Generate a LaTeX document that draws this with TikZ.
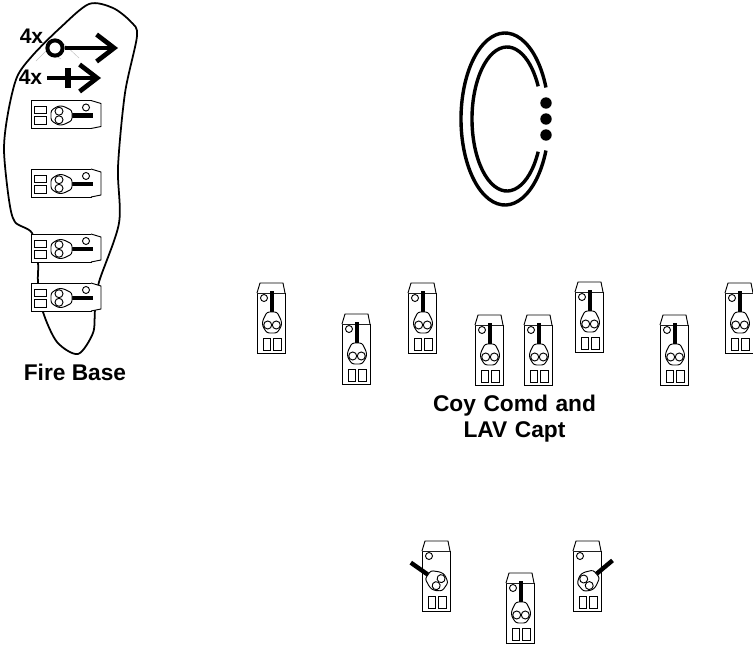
\documentclass[tikz,border=0pt]{standalone}
\usepackage{fontspec}
\setmainfont{Liberation Sans}
\usetikzlibrary{arrows.meta}

\tikzset{
	thinline/.style={line width=0.8pt},
	heavyline/.style={line width=4pt},
	label/.style={font=\fontsize{19.4}{22}\selectfont\bfseries,align=center,inner sep=0pt},
	count/.style={font=\fontsize{18}{20}\selectfont\bfseries,inner sep=0pt},
	barb/.style={-{Straight Barb[length=15pt,width=23pt,line width=4pt]}},
	pics/lav/.style={code={
		\draw[thinline,fill=white] (-14,-25) rectangle (14,35);
		\draw[thinline,fill=white] (-14,-25) -- (-11,-35) -- (12,-35) -- (14,-25);
		\draw[thinline] (-7,-20) circle (3.5);
		\draw[thinline] (-8,20) rectangle (-1,32);
		\draw[thinline] (2,20) rectangle (10,32);
		\begin{scope}[rotate around={#1:(1,5)}]
			\fill (-1.2,-27) rectangle (3.2,-6);
			\draw[thinline,fill=white,rounded corners=2pt] (-4,-6) -- (6,-6) -- (10.5,3) -- (10.5,8) -- (6,15) -- (-4,15) -- (-8.5,8) -- (-8.5,3) -- cycle;
			\draw[thinline] (-3.3,7) circle (4);
			\draw[thinline] (5.3,7) circle (4);
		\end{scope}
	}}
}

\begin{document}
\begin{tikzpicture}[x=0.03cm,y=-0.03cm]
	\useasboundingbox (0,0) rectangle (753,645);

	% fire base outline
	\draw[line width=1.5pt] plot[smooth cycle,tension=0.5] coordinates {(89,4) (113,8) (131,22) (137,36) (125,93) (118,167) (119,223) (99,282) (95,310) (93,333) (78,354) (57,342) (43,312) (38,283) (38,262) (32,233) (15,222) (9,200) (4,150) (8,113) (17,77) (33,55) (60,28)};

	% faint lines behind the ring
	\draw[black!25,line width=0.4pt] (36,61) -- (50,47) (50,53) -- (61,59) (63,43) -- (79,58);

	\node[count] (countA) at (31.5,36) {4x};
	\node[count] (countB) at (30.5,77) {4x};
	\node[circle,draw,line width=3.4pt,minimum size=13pt,inner sep=0pt,fill=white] (ring) at (55,48) {};
	\coordinate (ringEnd) at (118,48);
	\coordinate (crossStart) at (47,78);
	\coordinate (crossEnd) at (101,78);
	\draw[heavyline,barb] (ring) -- (ringEnd);
	\draw[heavyline,barb] (crossStart) -- (crossEnd);
	\draw[line width=4.6pt] (68,68) -- (68,88);

	% fire base vehicles
	\foreach \y in {114.5,183,248,297} {
		\pic[rotate=-90] at (66,\y) {lav=0};
	};

	% C shape and dots
	\draw[line width=2.9pt] (505,119) ++(21.5:44 and 86) arc (21.5:338.5:44 and 86);
	\draw[line width=2.9pt] (507,119) ++(27:35 and 72) arc (27:333:35 and 72);
	\foreach \y in {103,119,135} {
		\fill (546,\y) circle (5.7);
	};

	% coy comd group
	\foreach \x/\y in {271/318,356/349,422/318,489/350,538/350,589/317,674/350,739/318} {
		\pic at (\x,\y) {lav=0};
	};

	% bottom group
	\pic at (436,576) {lav=55};
	\pic at (520,608) {lav=0};
	\pic at (587,576) {lav=-50};

	\node[label] (fireBase) at (75,372) {Fire Base};
	\node[label,text width=200pt] (coyComd) at (514.5,418.5) {Coy Comd and\\LAV Capt};
\end{tikzpicture}
\end{document}
